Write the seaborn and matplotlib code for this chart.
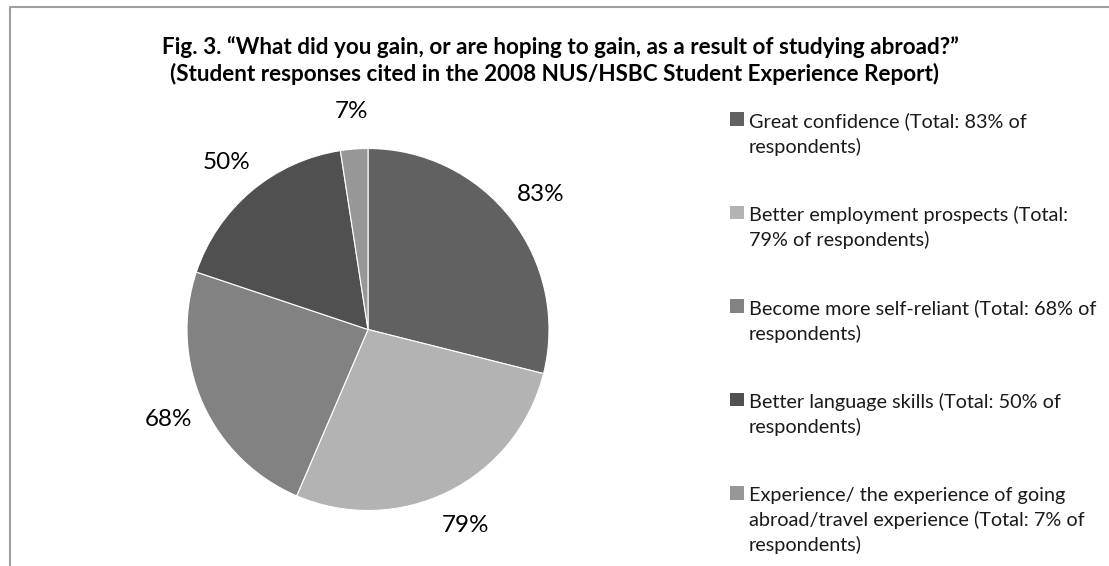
import matplotlib
matplotlib.use("Agg")
import matplotlib.pyplot as plt
from matplotlib.lines import Line2D
from matplotlib.patches import Rectangle
import seaborn as sns

# ---- data -------------------------------------------------------------
categories = [
    "Great confidence (Total: 83% of\nrespondents)",
    "Better employment prospects (Total:\n79% of respondents)",
    "Become more self-reliant (Total: 68% of\nrespondents)",
    "Better language skills (Total: 50% of\nrespondents)",
    "Experience/ the experience of going\nabroad/travel experience (Total: 7% of\nrespondents)",
]
values = [83, 79, 68, 50, 7]
slice_colors = ["#616161", "#b3b3b3", "#828282", "#505050", "#979797"]
title_lines = [
    "Fig. 3. \u201cWhat did you gain, or are hoping to gain, as a result of studying abroad?\u201d",
    "(Student responses cited in the 2008 NUS/HSBC Student Experience Report)",
]

# ---- style ------------------------------------------------------------
sns.set_theme(style="white")
plt.rcParams["font.family"] = ["Lato", "DejaVu Sans"]

W, H = 1109, 566
fig = plt.figure(figsize=(W / 100, H / 100), dpi=100)
fig.patch.set_facecolor("white")

def fx(px):
    return px / W

def fy(py):
    return 1 - py / H

# chart-area border (left and top edges)
fig.add_artist(Line2D([fx(10), fx(10), 1.0], [0.0, fy(7), fy(7)],
                      transform=fig.transFigure, color="#a0a0a0", lw=1.5))

# ---- title ------------------------------------------------------------
fig.text(fx(560), fy(47), title_lines[0], ha="center", va="center",
         fontsize=16.2, fontweight="bold", color="black")
fig.text(fx(554), fy(74), title_lines[1], ha="center", va="center",
         fontsize=16.2, fontweight="bold", color="black")

# ---- pie --------------------------------------------------------------
cx, cy, R = 368, 329.5, 181
half = 250
ax = fig.add_axes([fx(cx - half), fy(cy + half), half * 2 / W, half * 2 / H])
wedges, texts = ax.pie(
    values,
    labels=[f"{v}%" for v in values],
    colors=slice_colors,
    startangle=90,
    counterclock=False,
    labeldistance=1.21,
    wedgeprops=dict(edgecolor="white", linewidth=0.8),
    textprops=dict(fontsize=17.5, color="black"),
)
for t in texts:
    t.set_horizontalalignment("center")
    t.set_verticalalignment("center")
lim = half / R
ax.set_xlim(-lim, lim)
ax.set_ylim(-lim, lim)
ax.set_aspect("equal")
ax.axis("off")

# ---- legend -----------------------------------------------------------
sq = 13.5
top0, step = 112, 93.5
for i, (label, col) in enumerate(zip(categories, slice_colors)):
    top = top0 + i * step
    fig.add_artist(Rectangle((fx(730), fy(top + sq)), sq / W, sq / H,
                             transform=fig.transFigure, facecolor=col,
                             edgecolor="none"))
    fig.text(fx(749), fy(top + 0.5), label, ha="left", va="top",
             fontsize=14.3, color="#1a1a1a", linespacing=1.48)

fig.savefig("out.png", dpi=100, facecolor="white")
